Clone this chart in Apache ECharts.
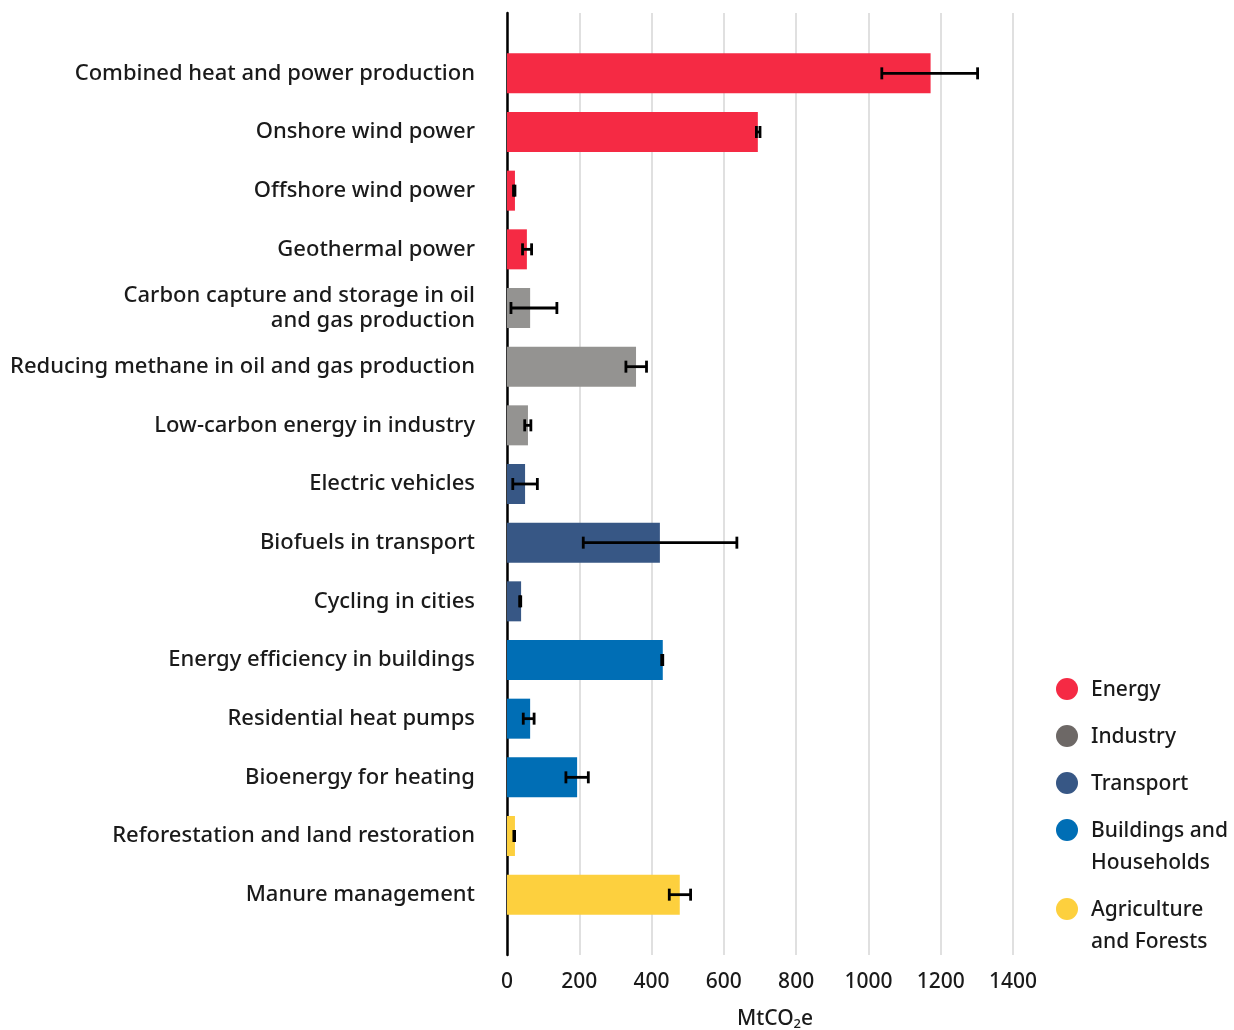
<!DOCTYPE html>
<html><head><meta charset="utf-8">
<script src="https://cdn.jsdelivr.net/npm/echarts@6/dist/echarts.min.js"></script>
<style>html,body{margin:0;padding:0;background:#fff}#c{width:1234px;height:1030px}</style>
</head><body><div id="c"></div>
<script>
const categories = [
  'Combined heat and power production',
  'Onshore wind power',
  'Offshore wind power',
  'Geothermal power',
  'Carbon capture and storage in oil\nand gas production',
  'Reducing methane in oil and gas production',
  'Low-carbon energy in industry',
  'Electric vehicles',
  'Biofuels in transport',
  'Cycling in cities',
  'Energy efficiency in buildings',
  'Residential heat pumps',
  'Bioenergy for heating',
  'Reforestation and land restoration',
  'Manure management'
];
const sectorOf = [0,0,0,0,1,1,1,2,2,2,3,3,3,4,4];
const values   = [1172,694,22,55,64,357,58,50,423,39,431,64,194,22,478];
const errLow   = [1037,690,18,43,11,329,49,16,211,35,428,45,163,19,449];
const errHigh  = [1302,700,22,68,138,386,66,84,636,38,431,75,225,21,508];
const sectorNames  = ['Energy','Industry','Transport','Buildings and\nHouseholds','Agriculture\nand Forests'];
const barColors    = ['#F52A44','#949391','#375785','#006EB5','#FDD03E'];
const legendColors = ['#F52A44','#6D6866','#375785','#006EB5','#FDD03E'];
const xTicks = {min:0, max:1400, interval:200};

const FONT = 'Noto Sans';
const FS = 22;
const FW = 500;
const chart = echarts.init(document.getElementById('c'));

const legendGraphics = [];
let ly = 689;
sectorNames.forEach((name, k) => {
  const lines = name.split('\n').length;
  legendGraphics.push({type:'circle', shape:{cx:1067, cy:ly, r:11}, style:{fill:legendColors[k]}});
  legendGraphics.push({type:'text', x:1091, y:ly-15, style:{text:name, fill:'#1a1a1a', fontSize:21, fontWeight:FW, fontFamily:FONT, lineHeight:32, verticalAlign:'top'}});
  ly += 47 + (lines-1)*32;
});

const option = {
  animation:false,
  backgroundColor:'#fff',
  grid:[
    {left:507, right:221, top:44, bottom:106, containLabel:false, outerBoundsMode:'none'},
    {left:507, right:221, top:13, bottom:75, containLabel:false, outerBoundsMode:'none'}
  ],
  xAxis:[
    {gridIndex:0, type:'value', min:xTicks.min, max:xTicks.max, interval:xTicks.interval, show:false},
    {gridIndex:1, type:'value', min:xTicks.min, max:xTicks.max, interval:xTicks.interval,
     axisLine:{show:false}, axisTick:{show:false},
     splitLine:{show:true, lineStyle:{color:'#d6d6d6', width:1.5}},
     axisLabel:{margin:17, fontSize:21, fontWeight:FW, color:'#1a1a1a', fontFamily:FONT, formatter:v=>String(v)},
     name:'MtCO{s|2}e', nameLocation:'middle', nameGap:53,
     nameTextStyle:{fontSize:21, fontWeight:FW, color:'#1a1a1a', fontFamily:FONT, padding:[0,0,0,30],
       rich:{s:{fontSize:13, fontWeight:FW, verticalAlign:'bottom', padding:[10,0,0,0], fontFamily:FONT, color:'#1a1a1a'}}}
    }
  ],
  yAxis:[
    {gridIndex:0, type:'category', data:categories, inverse:true,
     axisLine:{show:false}, axisTick:{show:false}, splitLine:{show:false},
     axisLabel:{margin:32, fontSize:FS, fontWeight:FW, color:'#1a1a1a', fontFamily:FONT, lineHeight:25}},
    {gridIndex:1, type:'value', min:0, max:1,
     axisLine:{show:true, onZero:false, lineStyle:{color:'#000', width:2.5}},
     axisTick:{show:false}, axisLabel:{show:false}, splitLine:{show:false}}
  ],
  graphic: legendGraphics,
  series:[
    {type:'bar', xAxisIndex:0, yAxisIndex:0, barWidth:40,
     data: values.map((v,i)=>({value:v, itemStyle:{color:barColors[sectorOf[i]]}}))},
    {type:'custom', xAxisIndex:0, yAxisIndex:0, z:5,
     encode:{x:[0,2], y:1},
     data: errLow.map((lo,i)=>[lo, i, errHigh[i]]),
     renderItem:(params, api)=>{
       const y = api.value(1);
       const p1 = api.coord([api.value(0), y]);
       const p2 = api.coord([api.value(2), y]);
       const h = 6;
       const st = {stroke:'#000', lineWidth:2.8};
       return {type:'group', children:[
         {type:'line', shape:{x1:p1[0], y1:p1[1], x2:p2[0], y2:p2[1]}, style:st},
         {type:'line', shape:{x1:p1[0], y1:p1[1]-h, x2:p1[0], y2:p1[1]+h}, style:st},
         {type:'line', shape:{x1:p2[0], y1:p2[1]-h, x2:p2[0], y2:p2[1]+h}, style:st}
       ]};
     }}
  ]
};
chart.setOption(option);
</script></body></html>
